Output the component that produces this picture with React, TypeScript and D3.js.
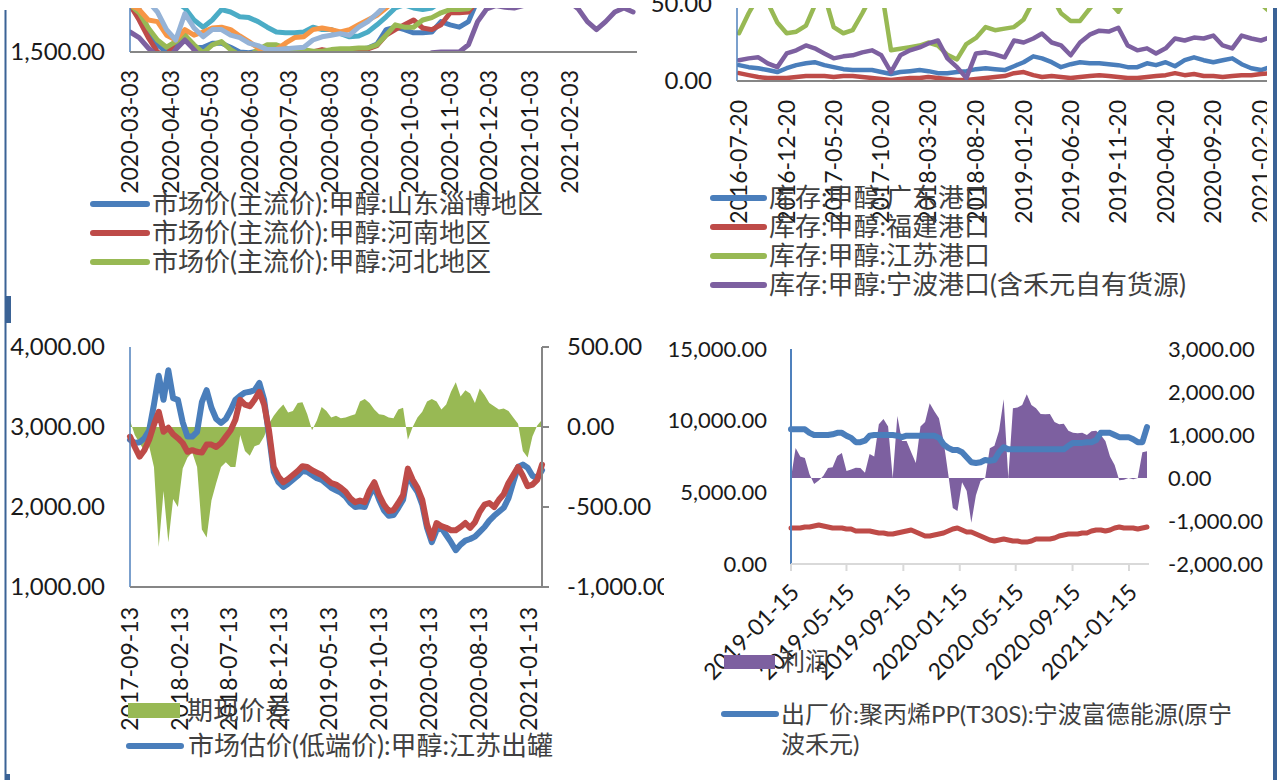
import React, { useEffect, useRef } from 'react';
import * as d3 from 'd3';

const parse = d3.utcParse('%Y-%m-%d');

// 左上: 市场价(主流价):甲醇, 周度
const tlStart = '2020-03-03';
const tlTicks = ['2020-03-03', '2020-04-03', '2020-05-03', '2020-06-03', '2020-07-03', '2020-08-03',
  '2020-09-03', '2020-10-03', '2020-11-03', '2020-12-03', '2021-01-03', '2021-02-03'];
const tlYTicks = [1500];
const tlNames = ['市场价(主流价):甲醇:山东淄博地区', '市场价(主流价):甲醇:河南地区', '市场价(主流价):甲醇:河北地区'];
const tlShandong = [1825, 1765, 1640, 1545, 1500, 1545, 1590, 1525, 1530, 1555, 1555, 1530, 1500, 1495, 1505, 1515,
  1515, 1505, 1500, 1500, 1495, 1495, 1500, 1500, 1505, 1515, 1525, 1550, 1640, 1655, 1640, 1620, 1620, 1625, 1690,
  1670, 1655, 1690, 1825, 1870, 1890, 1910, 1940, 1970, 1990, 2000, 1990, 1980, 1990, 2010, 2040, 2050, 2040, 2030,
  2040, 2050];
const tlHenan = [1795, 1700, 1590, 1500, 1475, 1575, 1605, 1515, 1475, 1465, 1470, 1460, 1450, 1460, 1470, 1480,
  1500, 1495, 1500, 1505, 1500, 1515, 1505, 1500, 1505, 1515, 1520, 1540, 1605, 1640, 1670, 1700, 1650, 1640, 1670,
  1745, 1745, 1750, 1825, 1880, 1900, 1920, 1950, 1980, 2000, 2010, 2000, 1990, 2000, 2020, 2050, 2060, 2050, 2040,
  2050, 2060];
const tlHebei = [1795, 1745, 1650, 1575, 1530, 1565, 1605, 1545, 1495, 1545, 1565, 1515, 1480, 1475, 1515, 1545,
  1545, 1525, 1515, 1515, 1505, 1505, 1515, 1520, 1520, 1525, 1525, 1545, 1605, 1670, 1655, 1655, 1700, 1715, 1745,
  1765, 1765, 1770, 1825, 1870, 1900, 1930, 1960, 1990, 2000, 2000, 1990, 1990, 2010, 2040, 2060, 2060, 2050, 2050,
  2060, 2070];
// 图例被裁掉的其余地区
const tlS4 = [1625, 1590, 1525, 1475, 1450, 1515, 1575, 1515, 1450, 1440, 1430, 1420, 1410, 1400, 1400, 1410, 1420,
  1430, 1420, 1410, 1420, 1430, 1440, 1430, 1420, 1430, 1440, 1450, 1460, 1470, 1480, 1480, 1470, 1495, 1500, 1500,
  1500, 1545, 1690, 1770, 1790, 1780, 1775, 1790, 1855, 1890, 1890, 1875, 1815, 1770, 1690, 1640, 1690, 1750, 1775,
  1750];
const tlS5 = [1825, 1825, 1815, 1795, 1825, 1815, 1775, 1700, 1655, 1700, 1765, 1750, 1720, 1715, 1690, 1655, 1625,
  1620, 1620, 1625, 1655, 1640, 1640, 1615, 1595, 1600, 1625, 1670, 1720, 1775, 1795, 1775, 1765, 1775, 1815, 1855,
  1900, 1930, 1960, 1990, 2020, 2040, 2060, 2070, 2080, 2080, 2070, 2080, 2100, 2120, 2130, 2130, 2130, 2140, 2150,
  2150];
const tlS6 = [1795, 1765, 1700, 1690, 1605, 1575, 1640, 1605, 1625, 1650, 1655, 1640, 1600, 1565, 1525, 1495, 1515,
  1555, 1590, 1595, 1640, 1650, 1640, 1625, 1640, 1670, 1700, 1730, 1775, 1825, 1830, 1810, 1800, 1830, 1860, 1900,
  1920, 1950, 1980, 2000, 2020, 2040, 2060, 2080, 2100, 2100, 2090, 2080, 2090, 2110, 2130, 2150, 2150, 2140, 2140,
  2150];
const tlS7 = [1855, 1825, 1815, 1750, 1640, 1575, 1740, 1650, 1595, 1640, 1640, 1605, 1590, 1555, 1540, 1515, 1515,
  1520, 1525, 1530, 1575, 1595, 1605, 1615, 1605, 1655, 1690, 1740, 1795, 1840, 1870, 1890, 1900, 1920, 1950, 1980,
  2000, 2020, 2040, 2060, 2070, 2080, 2080, 2070, 2070, 2080, 2100, 2120, 2140, 2140, 2130, 2130, 2140, 2150, 2160,
  2160];

// 右上: 港口库存, 月度
const trStart = '2016-07-20';
const trTicks = ['2016-07-20', '2016-12-20', '2017-05-20', '2017-10-20', '2018-03-20', '2018-08-20', '2019-01-20',
  '2019-06-20', '2019-11-20', '2020-04-20', '2020-09-20', '2021-02-20'];
const trYTicks = [0, 50];
const trNames = ['库存:甲醇:广东港口', '库存:甲醇:福建港口', '库存:甲醇:江苏港口', '库存:甲醇:宁波港口(含禾元自有货源)'];
const trGuangdong = [10.3, 9.0, 8.3, 7.1, 5.8, 8.3, 10.3, 11.5, 12.2, 10.3, 9.0, 7.7, 7.1, 7.1, 7.1, 5.8, 4.5, 5.8,
  6.4, 7.1, 6.4, 5.1, 5.1, 5.8, 6.4, 7.7, 8.3, 7.7, 7.1, 9.6, 12.2, 16.0, 14.7, 12.2, 9.0, 10.9, 12.2, 11.5, 11.5,
  10.9, 10.3, 9.0, 9.0, 11.5, 10.3, 12.2, 9.6, 13.5, 15.4, 13.5, 12.2, 13.5, 14.7, 10.9, 8.3, 7.1, 9.0];
const trFujian = [5.1, 3.8, 2.6, 1.9, 1.9, 1.9, 2.6, 3.2, 3.2, 3.2, 2.6, 3.2, 3.2, 2.6, 1.9, 1.3, 0.6, 1.3, 1.9, 1.9,
  2.6, 1.9, 1.3, 0.6, 0.6, 1.3, 1.9, 2.6, 3.2, 5.1, 5.8, 3.8, 2.6, 3.2, 2.6, 1.9, 2.6, 3.2, 3.8, 3.2, 2.6, 1.9, 1.9,
  2.6, 3.2, 3.8, 5.1, 3.8, 4.5, 3.2, 3.2, 2.6, 3.2, 3.8, 3.8, 4.5, 5.1];
const trJiangsu = [31, 44, 55, 51, 38, 31, 32, 36, 49, 56, 35, 31, 33, 44, 56, 60, 20, 21, 22, 23, 25, 23, 17, 14, 24,
  28, 35, 33, 34, 35, 40, 52, 58, 55, 44, 39, 39, 47, 55, 52, 45, 55, 65, 75, 85, 95, 105, 110, 108, 100, 95, 85, 78,
  70, 62, 50, 45];
const trNingbo = [13.5, 14.7, 15.4, 11.5, 9.0, 17.9, 19.9, 23.1, 21.2, 17.9, 14.7, 16.0, 16.7, 18.6, 19.9, 16.7, 5.8,
  16.7, 19.9, 21.8, 24.4, 26.3, 14.7, 9.0, 1.9, 17.9, 18.6, 17.3, 15.4, 26.3, 25.0, 27.6, 30.8, 25.0, 23.1, 16.7, 25.0,
  30.1, 32.7, 32.1, 34.6, 23.1, 19.9, 21.2, 17.9, 21.2, 27.6, 26.3, 28.2, 27.6, 29.5, 23.1, 21.2, 29.5, 27.6, 26.3,
  28.2];

// 左下: 期现价差(右轴) 与 江苏现货
const blStart = '2017-09-13';
const blTicks = ['2017-09-13', '2018-02-13', '2018-07-13', '2018-12-13', '2019-05-13', '2019-10-13', '2020-03-13',
  '2020-08-13', '2021-01-13'];
const blLeftTicks = [1000, 2000, 3000, 4000];
const blRightTicks = [-1000, -500, 0, 500];
const blNames = ['期现价差', '市场估价(低端价):甲醇:江苏出罐'];
const blSpread = [40, -50, -100, -150, -120, -250, -750, -400, -720, -450, -500, -260, -190, -160, -250, -640, -690,
  -460, -350, -250, -220, -250, -250, -50, -150, -180, -120, -110, -60, 20, 70, 110, 140, 90, 100, 150, 155, 80, -20,
  40, 125, 100, 60, 70, 55, 60, 70, 80, 160, 175, 150, 110, 80, 75, 60, 55, 110, 120, -80, 0, 60, 95, 160, 175, 160,
  110, 140, 220, 280, 190, 230, 210, 150, 240, 200, 150, 130, 110, 115, 100, 60, 20, -150, -190, -60, 10, 45];
const blSpot = [2840, 2800, 2810, 2860, 2960, 3280, 3640, 3340, 3710, 3360, 3340, 3060, 2880, 2880, 2940, 3310, 3460,
  3240, 3100, 3050, 3100, 3210, 3340, 3390, 3430, 3440, 3460, 3550, 3340, 2900, 2440, 2310, 2250, 2290, 2340, 2390,
  2450, 2440, 2400, 2360, 2340, 2290, 2240, 2210, 2180, 2130, 2050, 2000, 2010, 2000, 2150, 2250, 2090, 1960, 1890,
  1900, 1990, 2090, 2430, 2280, 2190, 2030, 1740, 1560, 1710, 1740, 1650, 1560, 1460, 1530, 1580, 1600, 1630, 1690,
  1750, 1830, 1890, 1940, 1990, 2110, 2310, 2500, 2530, 2490, 2390, 2360, 2460];
const blFutures = [2880, 2750, 2630, 2710, 2840, 3030, 3190, 2940, 2990, 2910, 2860, 2800, 2690, 2710, 2690, 2680,
  2780, 2780, 2750, 2800, 2880, 2960, 3090, 3340, 3280, 3260, 3340, 3440, 3280, 2960, 2500, 2380, 2310, 2350, 2400,
  2450, 2510, 2500, 2460, 2430, 2400, 2350, 2300, 2280, 2240, 2190, 2110, 2060, 2080, 2060, 2210, 2310, 2150, 2030,
  1950, 1960, 2050, 2150, 2480, 2340, 2240, 2090, 1780, 1610, 1800, 1760, 1740, 1710, 1710, 1750, 1800, 1740, 1810,
  1940, 2030, 2050, 2000, 2090, 2160, 2300, 2400, 2500, 2390, 2260, 2280, 2340, 2530];

// 右下: 利润(右轴) 与 PP 出厂价
const brStart = '2019-01-15';
const brTicks = ['2019-01-15', '2019-05-15', '2019-09-15', '2020-01-15', '2020-05-15', '2020-09-15', '2021-01-15'];
const brLeftTicks = [0, 5000, 10000, 15000];
const brRightTicks = [-2000, -1000, 0, 1000, 2000, 3000];
const brNames = ['利润', '出厂价:聚丙烯PP(T30S):宁波富德能源(原宁', '波禾元)'];
const brProfit = [0, 700, 500, 465, 90, -140, -60, 50, 230, 250, 510, 580, 160, 200, 240, 230, 120, 560, 500, 1250,
  1370, 1200, 0, 1440, 860, 860, 600, 350, 1200, 1300, 1740, 1550, 1390, 860, 100, -700, -770, -100, -300, -1040,
  -400, -70, 0, 690, 750, 1100, 1830, 0, 1620, 1640, 1700, 1950, 1700, 1620, 1490, 1480, 1490, 1300, 1250, 1260, 1100,
  1050, 1040, 1050, 1000, 1090, 1100, 1000, 860, 500, 300, -50, -40, 0, -30, 0, 600, 620];
const brPP = [9400, 9400, 9400, 9400, 9150, 9000, 9000, 9000, 9000, 9050, 9150, 9150, 8950, 8800, 8500, 8500, 8600,
  8950, 9000, 9000, 9000, 9000, 9000, 8950, 8850, 8950, 8950, 8950, 8950, 8950, 8950, 8950, 8800, 8350, 8100, 7950,
  7950, 7800, 7450, 7100, 7050, 7100, 7250, 7200, 7250, 7800, 8150, 8000, 8000, 8000, 8000, 8000, 8000, 8000, 8000,
  8000, 8000, 8000, 8000, 8000, 8250, 8450, 8450, 8450, 8500, 8500, 8650, 9150, 9150, 9150, 9000, 8850, 8850, 8850,
  8700, 8500, 8500, 9550];
const brMethanol = [2510, 2510, 2510, 2580, 2580, 2650, 2720, 2650, 2580, 2510, 2510, 2510, 2440, 2440, 2300, 2300,
  2300, 2300, 2230, 2160, 2160, 2090, 2090, 2160, 2230, 2300, 2370, 2230, 2090, 1950, 1950, 2020, 2090, 2160, 2300,
  2440, 2510, 2370, 2230, 2230, 2090, 1950, 1810, 1670, 1600, 1670, 1740, 1670, 1600, 1600, 1530, 1530, 1600, 1740,
  1740, 1740, 1740, 1810, 1950, 2020, 2090, 2090, 2090, 2160, 2160, 2300, 2370, 2370, 2300, 2370, 2510, 2580, 2510,
  2510, 2510, 2440, 2510, 2580];

const C = {
  blue: '#4a7ebb', red: '#be4b48', green: '#98b954', purple: '#7d60a0',
  teal: '#4bacc6', orange: '#f79646', lightBlue: '#95b3d7',
  axis: '#868686', axisBlue: '#4f81bd', frame: '#3b6396', text: '#1a1a1a', legend: '#404040',
};
const NUM_FONT = 'Lato, "Noto Sans", sans-serif';
const LEG_FONT = 'Lato, "Noto Sans CJK SC", sans-serif';

const App = () => {
  const svgRef = useRef<SVGSVGElement>(null);

  useEffect(() => {
    const svg = d3.select(svgRef.current);
    svg.selectAll('*').remove();
    // Excel 风格: 普通连字符做负号
    const fmt = d3.formatLocale({ decimal: '.', thousands: ',', grouping: [3], currency: ['', ''], minus: '-' })
      .format(',.2f');
    const defs = svg.append('defs');

    const clip = (id: string, x: number, y: number, w: number, h: number) => {
      defs.append('clipPath').attr('id', id).append('rect')
        .attr('x', x).attr('y', y).attr('width', w).attr('height', h);
      return `url(#${id})`;
    };

    const num = (g: any, x: number, y: number, anchor: string, txt: string, size = 24) =>
      g.append('text').attr('x', x).attr('y', y).attr('dy', '0.35em')
        .attr('text-anchor', anchor).attr('font-family', NUM_FONT)
        .attr('font-size', size).attr('fill', C.text).text(txt);

    const dateLabels = (g: any, x: any, ticks: string[], y0: number, angle: number, dx: number) =>
      g.selectAll(null).data(ticks).join('text')
        .attr('transform', (d: string) => `translate(${x(parse(d)) + dx},${y0}) rotate(${angle})`)
        .attr('dy', '0.35em').attr('text-anchor', 'end')
        .attr('font-family', NUM_FONT).attr('font-size', 23).attr('fill', C.text)
        .text((d: string) => d);

    const drawLine = (g: any, dates: Date[], values: number[], x: any, y: any, color: string, w: number) =>
      g.append('path').datum(values)
        .attr('fill', 'none').attr('stroke', color).attr('stroke-width', w)
        .attr('stroke-linejoin', 'round').attr('stroke-linecap', 'round')
        .attr('d', d3.line<number>().x((_, i) => x(dates[i])).y(d => y(d)));

    const legendText = (g: any, x: number, y: number, txt: string, size = 26) =>
      g.append('text').attr('x', x).attr('y', y).attr('dy', '0.35em')
        .attr('font-family', LEG_FONT).attr('font-size', size).attr('fill', C.legend).text(txt);

    const legendLine = (g: any, x1: number, x2: number, y: number, color: string) =>
      g.append('line').attr('x1', x1).attr('x2', x2).attr('y1', y).attr('y2', y)
        .attr('stroke', color).attr('stroke-width', 6).attr('stroke-linecap', 'round');

    const vline = (g: any, x: number, y1: number, y2: number, color: string, w: number) =>
      g.append('line').attr('x1', x).attr('x2', x).attr('y1', y1).attr('y2', y2)
        .attr('stroke', color).attr('stroke-width', w);
    const hline = (g: any, x1: number, x2: number, y: number, color: string, w: number) =>
      g.append('line').attr('x1', x1).attr('x2', x2).attr('y1', y).attr('y2', y)
        .attr('stroke', color).attr('stroke-width', w);

    // 页面边框
    vline(svg, 5.5, 10, 780, C.frame, 2);
    svg.append('rect').attr('x', 5).attr('y', 296).attr('width', 6).attr('height', 27).attr('fill', C.frame);
    svg.append('rect').attr('x', 5).attr('y', 774).attr('width', 5).attr('height', 6).attr('fill', C.frame);
    svg.append('rect').attr('x', 1273).attr('y', 8).attr('width', 4).attr('height', 772).attr('fill', C.frame);

    // ---------- 左上 ----------
    const tl = svg.append('g');
    const tlX = d3.scaleUtc().domain([parse(tlStart)!, parse('2021-03-26')!]).range([130, 637]);
    const tlY = d3.scaleLinear().domain([1500, 2000]).range([52, -28]);
    const tlDates = tlShandong.map((_, i) => d3.utcDay.offset(parse(tlStart)!, i * 7));
    const tlPlot = tl.append('g').attr('clip-path', clip('tl-clip', 130, 8, 510, 44));
    ([[tlShandong, C.blue], [tlHenan, C.red], [tlHebei, C.green], [tlS4, C.purple], [tlS5, C.teal],
      [tlS6, C.orange], [tlS7, C.lightBlue]] as [number[], string][])
      .forEach(([v, c]) => drawLine(tlPlot, tlDates, v, tlX, tlY, c, 5));
    vline(tl, 130, 8, 52, C.axisBlue, 1.5);
    hline(tl, 130, 637, 52, C.axis, 2);
    tlYTicks.forEach(t => num(tl, 105, tlY(t), 'end', fmt(t)));
    dateLabels(tl, tlX, tlTicks, 70, -90, 0);
    [C.blue, C.red, C.green].forEach((c, i) => {
      legendLine(tl, 93, 147, 204 + i * 29, c);
      legendText(tl, 152, 204 + i * 29, tlNames[i]);
    });

    // ---------- 右上 ----------
    const tr = svg.append('g').attr('clip-path', clip('tr-all', 640, 0, 627, 320));
    const trX = d3.scaleUtc().domain([parse(trStart)!, parse('2021-03-21')!]).range([739, 1270]);
    const trY = d3.scaleLinear().domain([0, 50]).range([81, 4]);
    const trDates = trGuangdong.map((_, i) => d3.utcMonth.offset(parse(trStart)!, i));
    const trPlot = tr.append('g').attr('clip-path', clip('tr-clip', 737, 8, 531, 73));
    ([[trGuangdong, C.blue], [trFujian, C.red], [trJiangsu, C.green], [trNingbo, C.purple]] as [number[], string][])
      .forEach(([v, c]) => drawLine(trPlot, trDates, v, trX, trY, c, 4.5));
    vline(tr, 737, 8, 81, C.axisBlue, 1.5);
    hline(tr, 737, 1268, 81, C.axis, 2);
    trYTicks.forEach(t => num(tr, 712, trY(t), 'end', fmt(t)));
    dateLabels(tr, trX, trTicks, 100, -90, 0);
    [C.blue, C.red, C.green, C.purple].forEach((c, i) => {
      legendLine(tr, 713, 764, 198 + i * 29, c);
      legendText(tr, 769, 198 + i * 29, trNames[i]);
    });

    // ---------- 左下 ----------
    const bl = svg.append('g').attr('clip-path', clip('bl-all', 0, 320, 664, 460));
    // 约两周一个点
    const blDates = blSpot.map((_, i) => d3.utcHour.offset(parse(blStart)!, i * 351));
    const blX = d3.scaleUtc().domain([parse(blStart)!, parse('2021-01-13')!]).range([130, 529]);
    const blYL = d3.scaleLinear().domain([1000, 4000]).range([587, 347]);
    const blYR = d3.scaleLinear().domain([-1000, 500]).range([587, 347]);
    bl.append('path').datum(blSpread).attr('fill', C.green)
      .attr('d', d3.area<number>().x((_, i) => blX(blDates[i])).y0(blYR(0)).y1(d => blYR(d)));
    drawLine(bl, blDates, blSpot, blX, blYL, C.blue, 6);
    drawLine(bl, blDates, blFutures, blX, blYL, C.red, 6);
    vline(bl, 130, 347, 587, C.axisBlue, 1.5);
    hline(bl, 130, 542, 587, C.axis, 2);
    vline(bl, 542, 347, 588, C.axis, 2);
    blRightTicks.forEach(t => hline(bl, 542, 549, blYR(t), C.axis, 2));
    blLeftTicks.forEach(t => num(bl, 105, blYL(t), 'end', fmt(t)));
    blRightTicks.forEach(t => num(bl, 567, blYR(t), 'start', fmt(t)));
    dateLabels(bl, blX, blTicks, 607, -90, 0);
    bl.append('rect').attr('x', 128).attr('y', 703).attr('width', 52).attr('height', 15).attr('fill', C.green);
    legendText(bl, 187, 711, blNames[0]);
    legendLine(bl, 129, 181, 746, C.blue);
    legendText(bl, 188, 746, blNames[1]);

    // ---------- 右下 ----------
    const br = svg.append('g');
    const brDates = brPP.map((_, i) => d3.utcDay.offset(parse(brStart)!, i * 10));
    const brX = d3.scaleUtc().domain([brDates[0], brDates[brDates.length - 1]]).range([791, 1147]);
    const brYL = d3.scaleLinear().domain([0, 15000]).range([564, 349]);
    const brYR = d3.scaleLinear().domain([-2000, 3000]).range([564, 349]);
    br.append('path').datum(brProfit).attr('fill', C.purple)
      .attr('d', d3.area<number>().x((_, i) => brX(brDates[i])).y0(brYR(0)).y1(d => brYR(d)));
    drawLine(br, brDates, brPP, brX, brYL, C.blue, 6);
    drawLine(br, brDates, brMethanol, brX, brYL, C.red, 5);
    vline(br, 791, 349, 564, C.axisBlue, 2);
    hline(br, 791, 1149, 564, '#d9d9d9', 2);
    brTicks.forEach(t => vline(br, brX(parse(t)), 564, 571, '#d9d9d9', 2));
    brLeftTicks.forEach(t => num(br, 767, brYL(t), 'end', fmt(t), 22));
    brRightTicks.forEach(t => num(br, 1168, brYR(t), 'start', fmt(t), 22));
    dateLabels(br, brX, brTicks, 588, -45, 4);
    br.append('rect').attr('x', 724).attr('y', 655).attr('width', 51).attr('height', 14).attr('fill', C.purple);
    legendText(br, 781, 662, brNames[0], 24);
    legendLine(br, 724, 776, 714, C.blue);
    legendText(br, 781, 715, brNames[1], 24);
    legendText(br, 781, 745, brNames[2], 24);
  }, []);

  return (
    <svg ref={svgRef} width={1277} height={780}
      style={{ position: 'absolute', left: 0, top: 0, background: '#fff' }} />
  );
};

export default App;
